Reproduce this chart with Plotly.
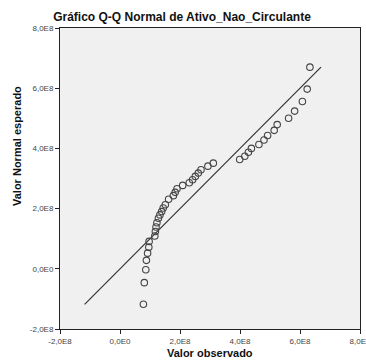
import plotly.graph_objects as go

# Observed values (x) and expected normal values (y), in units of 1e8
observed = [0.78, 0.81, 0.86, 0.88, 0.92, 0.96, 0.97, 1.16, 1.18, 1.20, 1.23, 1.28, 1.33, 1.39,
            1.44, 1.51, 1.62, 1.78, 1.84, 1.90, 2.09, 2.31, 2.42, 2.51, 2.61, 2.70, 2.93, 3.11,
            3.99, 4.16, 4.28, 4.38, 4.63, 4.80, 4.92, 5.14, 5.24, 5.62, 5.82, 6.08, 6.24, 6.33]
expected = [-1.18, -0.46, -0.03, 0.28, 0.52, 0.72, 0.91, 1.09, 1.24, 1.39, 1.53, 1.68, 1.79, 1.90,
            2.02, 2.13, 2.31, 2.43, 2.54, 2.66, 2.77, 2.86, 2.96, 3.07, 3.18, 3.29, 3.41, 3.51,
            3.63, 3.74, 3.87, 4.00, 4.13, 4.28, 4.43, 4.60, 4.79, 5.00, 5.24, 5.56, 5.97, 6.70]
line_range = [-1.18, 6.70]
tick_vals = [-2, 0, 2, 4, 6, 8]
tick_text = ["-2,0E8", "0,0E0", "2,0E8", "4,0E8", "6,0E8", "8,0E8"]

scale = 1e8
x = [v * scale for v in observed]
y = [v * scale for v in expected]
lr = [v * scale for v in line_range]
tv = [v * scale for v in tick_vals]

W, H = 366, 362
L, R, T, B = 60, 6, 28, 33
PW, PH = W - L - R, H - T - B

fig = go.Figure()
fig.add_trace(go.Scatter(x=lr, y=lr, mode="lines",
                         line=dict(color="#333333", width=1.2), hoverinfo="skip"))
fig.add_trace(go.Scatter(x=x, y=y, mode="markers",
                         marker=dict(symbol="circle-open", size=6.5,
                                     color="#444444", line=dict(width=1.1, color="#444444"))))

axis_common = dict(
    range=[-2e8, 8e8], tickvals=tv, ticktext=tick_text, showgrid=False, zeroline=False,
    showline=True, linecolor="#222222", linewidth=1, mirror=True,
    ticks="outside", ticklen=4, tickcolor="#222222", tickwidth=1,
    ticklabeloverflow="allow", automargin=False,
    tickfont=dict(family="Liberation Sans, Arial", size=8, color="#444444"),
)

fig.update_layout(
    width=W, height=H,
    margin=dict(l=L, r=R, t=T, b=B, autoexpand=False),
    paper_bgcolor="white", plot_bgcolor="#f0f0f0",
    showlegend=False,
    title=dict(text="<b>Gráfico Q-Q Normal de Ativo_Nao_Circulante</b>",
               x=182 / W, xanchor="center", y=1 - 17 / H, yanchor="middle", yref="container",
               font=dict(family="Liberation Sans, Arial", size=12, color="#111111")),
    xaxis=dict(**axis_common),
    yaxis=dict(**axis_common),
    annotations=[
        dict(text="<b>Valor observado</b>", xref="paper", yref="paper",
             x=0.5, y=-24 / PH, xanchor="center", yanchor="middle", showarrow=False,
             font=dict(family="Liberation Sans, Arial", size=11, color="#111111")),
        dict(text="<b>Valor Normal esperado</b>", xref="paper", yref="paper",
             x=-(L - 17) / PW, y=(329 - 146) / PH, xanchor="center", yanchor="middle",
             textangle=-90, showarrow=False,
             font=dict(family="Liberation Sans, Arial", size=11, color="#111111")),
    ],
)

# place the graph at the page's top-left corner and clip it to its own box,
# so the last tick label is cut at the edge as in the reference
page_js = (
    "document.documentElement.style.margin='0';document.documentElement.style.overflow='hidden';"
    "document.body.style.margin='0';document.body.style.padding='0';document.body.style.overflow='hidden';"
    "var gd=document.getElementById('{plot_id}'); gd.style.overflow='hidden';"
)

fig.write_html("out.html", post_script=page_js, config={"displayModeBar": False})
